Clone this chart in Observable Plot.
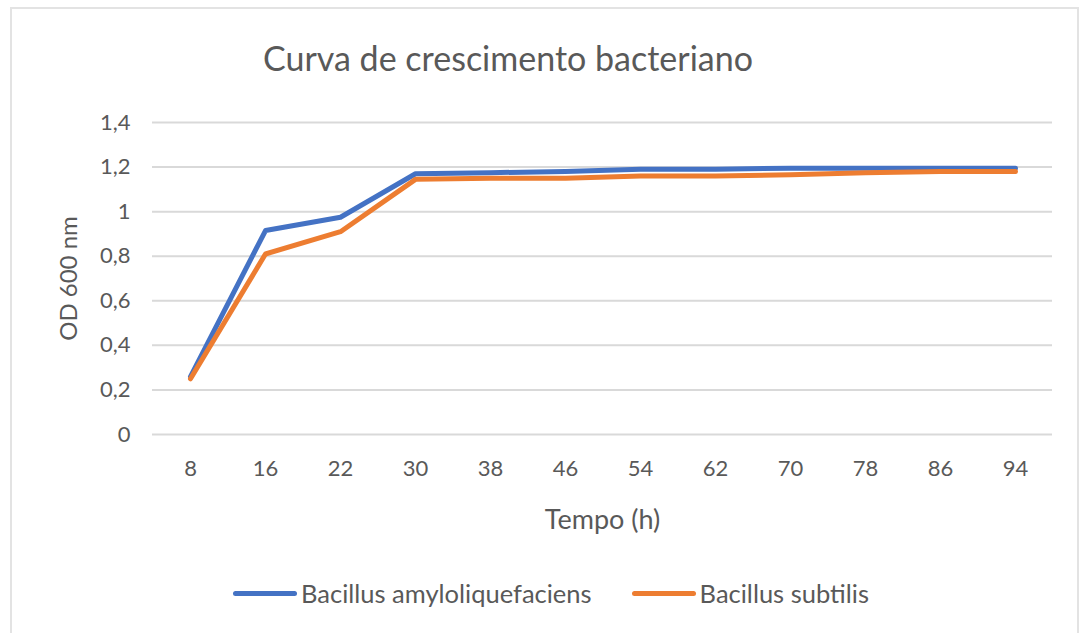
<!DOCTYPE html>
<html>
<head>
<meta charset="utf-8">
<script src="https://cdn.jsdelivr.net/npm/d3@7"></script>
<script src="https://cdn.jsdelivr.net/npm/@observablehq/plot@0.6"></script>
<style>
  html, body { margin: 0; padding: 0; background: #fff; width: 1084px; height: 633px; overflow: hidden; }
  body { position: relative; font-family: Lato, "Open Sans", sans-serif; color: #595959; }
  #frame { position: absolute; left: 10px; top: 7px; width: 1069px; height: 640px; border: 2px solid #e3e3e3; box-sizing: border-box; }
  #title { position: absolute; left: 0; width: 1016px; top: 37px; text-align: center; font-size: 34px; color: #595959; line-height: 42px; }
  #chart { position: absolute; left: 0; top: 95px; }
  #legend { position: absolute; left: 0; top: 578px; width: 1102px; display: flex; justify-content: center; gap: 40px; font-size: 25.5px; color: #595959; }
  .item { display: flex; align-items: center; }
  .swatch { width: 64px; height: 5px; border-radius: 3px; margin-right: 4px; }
</style>
</head>
<body>
<div id="frame"></div>
<div id="title">Curva de crescimento bacteriano</div>
<div id="chart"></div>
<div id="legend"></div>
<script>
const hours = [8, 16, 22, 30, 38, 46, 54, 62, 70, 78, 86, 94];
const amyloliquefaciens = [0.26, 0.915, 0.975, 1.17, 1.175, 1.18, 1.19, 1.19, 1.195, 1.195, 1.195, 1.195];
const subtilis = [0.25, 0.81, 0.91, 1.145, 1.15, 1.15, 1.16, 1.16, 1.165, 1.175, 1.18, 1.18];
const seriesNames = ["Bacillus amyloliquefaciens", "Bacillus subtilis"];
const seriesColors = ["#4472C4", "#ED7D31"];
const yTicks = [0, 0.2, 0.4, 0.6, 0.8, 1, 1.2, 1.4];

const data = [];
hours.forEach((h, i) => data.push({hour: String(h), value: amyloliquefaciens[i], series: seriesNames[0]}));
hours.forEach((h, i) => data.push({hour: String(h), value: subtilis[i], series: seriesNames[1]}));

const fmt = d => String(d).replace(".", ",");

const plot = Plot.plot({
  width: 1084,
  height: 460,
  marginLeft: 152,
  marginRight: 32,
  marginTop: 27,
  marginBottom: 121,
  style: {fontFamily: "Lato, 'Open Sans', sans-serif", fontSize: "22px", color: "#595959", background: "transparent"},
  x: {type: "point", domain: hours.map(String), padding: 0.5, label: null},
  y: {domain: [0, 1.4], ticks: yTicks, label: null},
  color: {domain: seriesNames, range: seriesColors},
  marks: [
    Plot.gridY(yTicks, {stroke: "#d9d9d9", strokeOpacity: 1, strokeWidth: 2}),
    Plot.axisY(yTicks, {tickSize: 0, tickPadding: 22, tickFormat: fmt, label: null, fill: "#595959", fontSize: 22}),
    Plot.axisY([], {tickSize: 0, label: "OD 600 nm", labelArrow: "none", labelAnchor: "center", labelOffset: 93, fill: "#595959", fontSize: 24}),
    Plot.axisX({tickSize: 0, tickPadding: 26, label: null, fill: "#595959", fontSize: 22}),
    Plot.axisX([], {tickSize: 0, label: "Tempo (h)", labelArrow: "none", labelAnchor: "center", labelOffset: 94, fill: "#595959", fontSize: 27}),
    Plot.lineY(data, {x: "hour", y: "value", stroke: "series", z: "series", strokeWidth: 5, strokeLinejoin: "round", strokeLinecap: "round"})
  ]
});
document.getElementById("chart").appendChild(plot);

const legend = document.getElementById("legend");
seriesNames.forEach((name, i) => {
  const item = document.createElement("div");
  item.className = "item";
  const sw = document.createElement("div");
  sw.className = "swatch";
  sw.style.background = seriesColors[i];
  const label = document.createElement("span");
  label.textContent = name;
  item.appendChild(sw);
  item.appendChild(label);
  legend.appendChild(item);
});
</script>
</body>
</html>
